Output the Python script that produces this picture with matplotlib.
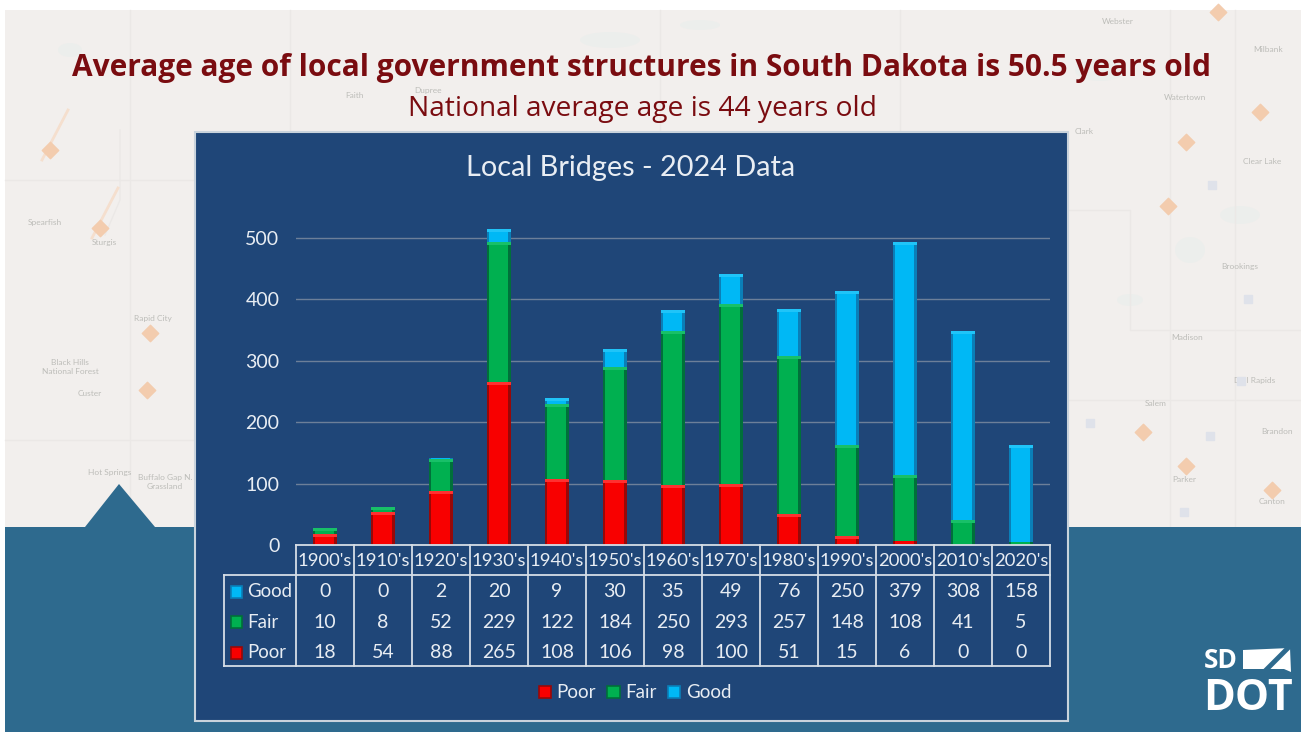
import matplotlib
matplotlib.use("Agg")
import matplotlib.pyplot as plt
from matplotlib.patches import Rectangle, Polygon, Ellipse
from matplotlib.transforms import blended_transform_factory as blend

decades = ["1900's","1910's","1920's","1930's","1940's","1950's","1960's","1970's","1980's","1990's","2000's","2010's","2020's"]
good = [0,0,2,20,9,30,35,49,76,250,379,308,158]
fair = [10,8,52,229,122,184,250,293,257,148,108,41,5]
poor = [18,54,88,265,108,106,98,100,51,15,6,0,0]
series = [("Poor", poor, "#f80000", "#980808", "#ff3030"),
          ("Fair", fair, "#00b050", "#00703a", "#18c068"),
          ("Good", good, "#00b8f5", "#0a7fb8", "#20c4f8")]
title1 = "Average age of local government structures in South Dakota is 50.5 years old"
title2 = "National average age is 44 years old"
chart_title = "Local Bridges - 2024 Data"
map_labels = [("Spearfish",45,223),("Rapid City",153,319),("Black Hills\nNational Forest",70,367),("Custer",90,394),
              ("Hot Springs",110,472),("Buffalo Gap N.\nGrassland",165,482),("Sturgis",104,243),("Watertown",1185,98),
              ("Clear Lake",1262,162),("Brookings",1240,266),("Madison",1187,338),("Dell Rapids",1255,380),
              ("Salem",1156,403),("Brandon",1277,432),("Parker",1184,480),("Canton",1272,502),("Milbank",1268,50),
              ("Webster",1118,22),("Clark",1084,131),("Faith",355,96),("Dupree",428,90)]
shields = [(50,150),(100,228),(150,333),(147,390),(1186,142),(1168,206),(1260,112),(1143,432),(1186,466),(1272,490),(1218,12)]
interstates = [(1212,185),(1248,299),(1241,381),(1210,436),(1090,423),(1184,512)]
lakes = [(1100,70,50,22),(1240,215,40,18),(1190,250,30,26),(1130,300,26,12),(610,40,60,16),(700,25,40,10),(70,50,24,14)]

W, H = 1301, 732
FONT = "Lato"
TXT = "#e8edf3"
fig = plt.figure(figsize=(W/100, H/100), dpi=100, facecolor="white")

bg = fig.add_axes([0,0,1,1], zorder=0); bg.set_xlim(0,W); bg.set_ylim(H,0); bg.axis("off")
bg.add_patch(Rectangle((5,10), W-5, 517, fc="#f2efed", ec="none"))
for x, y, w, h in lakes:
    bg.add_patch(Ellipse((x,y), w, h, fc="#eceeec", ec="none", zorder=1))
for xs, ys in [([1068,1130,1130,1301],[210,210,330,330]),([1068,1301],[400,400]),([5,195],[180,180]),([130,130],[10,527]),
               ([290,290],[10,132]),([5,195],[440,440]),([660,660],[10,132]),([900,900],[10,132]),([1170,1170],[10,527]),
               ([1235,1235],[10,527]),([120,120,105],[130,200,235])]:
    bg.plot(xs, ys, color="#ebe8e6", lw=1.0, zorder=1)
for x, y in [(50,150),(100,228)]:
    bg.plot([x-8,x+18],[y+10,y-40],color="#f5dfce",lw=2,zorder=1)
for t, x, y in map_labels:
    bg.text(x, y, t, color="#bdbdb9", fontsize=6, ha="center", va="center", family=FONT, zorder=2)
bg.scatter(*zip(*shields), marker="D", s=70, color="#f3ccae", zorder=2)
bg.scatter(*zip(*interstates), marker="s", s=30, color="#dfe2ea", zorder=2)
bg.add_patch(Rectangle((5,527), W-5, H-527, fc="#2e6a8e", ec="none", zorder=3))
bg.add_patch(Polygon([(85,527),(119,484),(155,527)], fc="#2e6a8e", ec="none", zorder=3))
bg.add_patch(Rectangle((195,132), 873, 589, fc="#1f4678", ec="#c9d3dc", lw=1.5, zorder=4))
bg.text(642, 68, title1, color="#7a0c10", fontsize=21.47, fontweight="bold", family="Open Sans", ha="center", va="center", zorder=5)
bg.text(642, 109, title2, color="#7a0c10", fontsize=20.25, family="Open Sans", ha="center", va="center", zorder=5)
bg.text(631, 168, chart_title, color=TXT, fontsize=20.8, family=FONT, ha="center", va="center", zorder=5)
# logo
bg.text(1204, 661, "SD", color="white", fontsize=19, fontweight="bold", family="Open Sans", ha="left", va="center", zorder=5)
bg.text(1203, 698, "DOT", color="white", fontsize=31, fontweight="bold", family="Open Sans", ha="left", va="center", zorder=5)
bg.add_patch(Polygon([(1243,650),(1290,648),(1291,672),(1284,669),(1243,669)], fc="white", ec="none", zorder=5))
bg.plot([1266,1288],[670,648], color="#2e6a8e", lw=3.5, zorder=6)

# chart
x0, x1, y0, y500 = 296, 1050, 545, 238
ax = fig.add_axes([x0/W, 1-y0/H, (x1-x0)/W, (y0-186)/H], zorder=1)
ax.patch.set_alpha(0)
ax.set_xlim(-0.5, 12.5)
ax.set_ylim(0, (y0-186)/((y0-y500)/500))
ax.set_yticks([0,100,200,300,400,500])
ax.set_xticks([])
ax.grid(axis="y", color="#6c7f99", lw=1)
ax.set_axisbelow(True)
for s in ax.spines.values():
    s.set_visible(False)
ax.tick_params(axis="y", length=0, labelcolor=TXT, labelsize=14, pad=12)
for l in ax.get_yticklabels():
    l.set_family(FONT)
pos = list(range(len(decades)))
unit = (y0-y500)/500
bottom = [0]*13
for name, vals, c, dark, light in series:
    ax.bar(pos, vals, 0.41, bottom=bottom, color=dark, zorder=3)
    ax.bar([p-0.015 for p in pos], vals, 0.33, bottom=bottom, color=c, zorder=4)
    for i, v in enumerate(vals):
        if v*unit > 4:
            cap = 3/unit
            ax.bar(i, cap, 0.41, bottom=bottom[i]+v-cap, color=light, zorder=5)
    bottom = [b+v for b, v in zip(bottom, vals)]

# data table
bg_t = fig.add_axes([0,0,1,1], zorder=2); bg_t.set_xlim(0,W); bg_t.set_ylim(H,0); bg_t.axis("off")
tr = blend(ax.transData, bg_t.transData)
LC = "#d5dde6"
for i in range(14):
    bg_t.plot([i-0.5]*2, [545,666], color=LC, lw=1.3, transform=tr)
bg_t.plot([x0,x1],[545,545],color=LC,lw=1.3)
bg_t.plot([224,x1],[574.5,574.5],color=LC,lw=1.3)
bg_t.plot([224,x1],[666,666],color=LC,lw=1.3)
bg_t.plot([224,224],[574.5,666],color=LC,lw=1.3)
for i, d in enumerate(decades):
    bg_t.text(i, 561, d, color=TXT, fontsize=13.3, family=FONT, ha="center", va="center", transform=tr)
rows = [("Good", good, 591.5, series[2]), ("Fair", fair, 622, series[1]), ("Poor", poor, 653, series[0])]
for name, vals, y, s in rows:
    bg_t.add_patch(Rectangle((231,y-6),11,12,fc=s[2],ec=s[3],lw=1.2))
    bg_t.text(247, y, name, color=TXT, fontsize=13.4, family=FONT, ha="left", va="center")
    for i, v in enumerate(vals):
        bg_t.text(i, y, str(v), color=TXT, fontsize=14, family=FONT, ha="center", va="center", transform=tr)
# legend
handles = [Rectangle((0,0),1,1,fc=s[2],ec=s[3],lw=1.2) for s in series]
fig.legend(handles, [s[0] for s in series], loc="center", bbox_to_anchor=(635/W, 1-693/H), ncol=3, frameon=False,
           labelcolor=TXT, prop={"family":FONT,"size":13.5}, handlelength=0.65, handleheight=0.65, handletextpad=0.3, columnspacing=0.6)

fig.savefig("out.png", dpi=100)
